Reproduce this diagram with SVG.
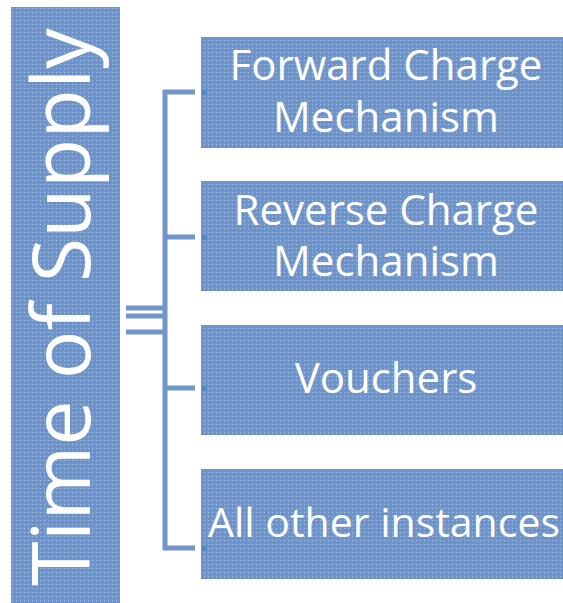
<svg xmlns="http://www.w3.org/2000/svg" width="563" height="603" viewBox="0 0 563 603">
<defs>
<pattern id="mesh" width="4" height="4" patternUnits="userSpaceOnUse">
<rect width="4" height="4" fill="#6e95cc"/>
<rect x="0" y="0" width="1" height="1" fill="#a7bfe3"/>
<rect x="2" y="2" width="1" height="1" fill="#5f87c2"/>
</pattern>
</defs>
<style>
.box{fill:url(#mesh);}
.lbl{font-family:"Open Sans","Liberation Sans",sans-serif;fill:#ffffff;text-anchor:middle;}
.conn{stroke:#7096cb;stroke-width:5;fill:none;}
.dot{fill:#5b86c4;}
</style>
<g id="title">
<rect class="box" x="11" y="7" width="109" height="596"/>
<text class="lbl" font-size="81" transform="translate(90,307) rotate(-90)">Time of Supply</text>
</g>
<g id="connectors">
<line class="conn" x1="126" y1="308" x2="165" y2="308"/>
<line class="conn" x1="126" y1="316" x2="165" y2="316"/>
<line class="conn" x1="126" y1="332" x2="165" y2="332"/>
<polyline class="conn" points="195,92 165,92 165,548 195,548"/>
<line class="conn" x1="165" y1="237" x2="195" y2="237"/>
<line class="conn" x1="165" y1="388" x2="195" y2="388"/>
</g>
<g id="n1">
<rect class="box" x="201" y="37" width="362" height="111"/>
<rect class="dot" x="202" y="90" width="5" height="5"/>
<text class="lbl" font-size="42" x="386" y="80">Forward Charge</text>
<text class="lbl" font-size="42" x="386" y="132">Mechanism</text>
</g>
<g id="n2">
<rect class="box" x="201" y="181" width="362" height="110"/>
<rect class="dot" x="202" y="235" width="5" height="5"/>
<text class="lbl" font-size="42" x="386" y="225">Reverse Charge</text>
<text class="lbl" font-size="42" x="386" y="276">Mechanism</text>
</g>
<g id="n3">
<rect class="box" x="201" y="325" width="362" height="110"/>
<rect class="dot" x="202" y="386" width="5" height="5"/>
<text class="lbl" font-size="42" x="386" y="393">Vouchers</text>
</g>
<g id="n4">
<rect class="box" x="201" y="469" width="362" height="110"/>
<rect class="dot" x="202" y="546" width="5" height="5"/>
<text class="lbl" font-size="41" x="384" y="537">All other instances</text>
</g>
</svg>
